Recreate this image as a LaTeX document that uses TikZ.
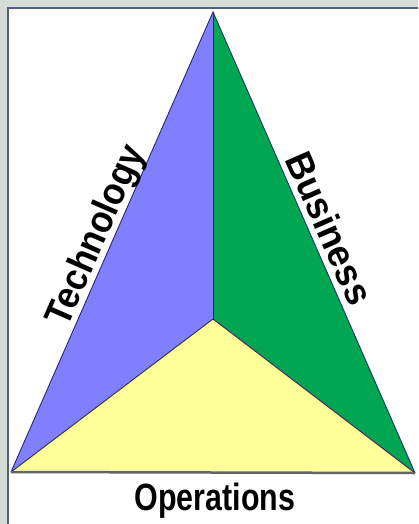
\documentclass[tikz,border=0pt]{standalone}
\usepackage{fontspec}
\setmainfont{Liberation Sans}
\definecolor{bgc}{RGB}{213,220,213}
\definecolor{framec}{RGB}{80,96,128}
\definecolor{techc}{RGB}{128,128,255}
\definecolor{busc}{RGB}{0,166,81}
\definecolor{opc}{RGB}{255,255,153}
\definecolor{edgec}{RGB}{40,40,110}
\definecolor{basec}{RGB}{100,100,100}
\tikzset{
  edgeline/.style={draw=edgec, line width=0.9pt},
  baseline/.style={draw=basec, line width=2.5pt},
  lbl/.style={font=\fontsize{38}{44}\selectfont\bfseries, inner sep=0pt, text=black}
}
\begin{document}
\begin{tikzpicture}[x=1pt,y=-1pt]
\useasboundingbox (0,0) rectangle (418,524);
\fill[bgc] (0,0) rectangle (418,524);
\fill[white] (8,9) rectangle (418,524);
\draw[framec, line width=2pt] (7.5,524) -- (7.5,8.5) -- (418,8.5);
\coordinate (A) at (213,12);
\coordinate (L) at (11,472);
\coordinate (R) at (415,473);
\coordinate (C) at (213,319);
\fill[techc] (L) -- (A) -- (C) -- cycle;
\fill[busc] (A) -- (R) -- (C) -- cycle;
\fill[opc] (L) -- (C) -- (R) -- cycle;
\draw[edgeline] (L) -- (A) -- (R);
\draw[edgeline] (A) -- (C);
\draw[edgeline] (L) -- (C) -- (R);
\draw[baseline] (L) -- (R);
\node[lbl, rotate=66.3] (tech) at (97,236) {\scalebox{0.92}[1]{Technology}};
\node[lbl, rotate=-66.3] (bus) at (330,228) {\scalebox{0.96}[1]{Business}};
\node[lbl, anchor=base] (ops) at (215,510) {\scalebox{0.8}[1]{Operations}};
\end{tikzpicture}
\end{document}
